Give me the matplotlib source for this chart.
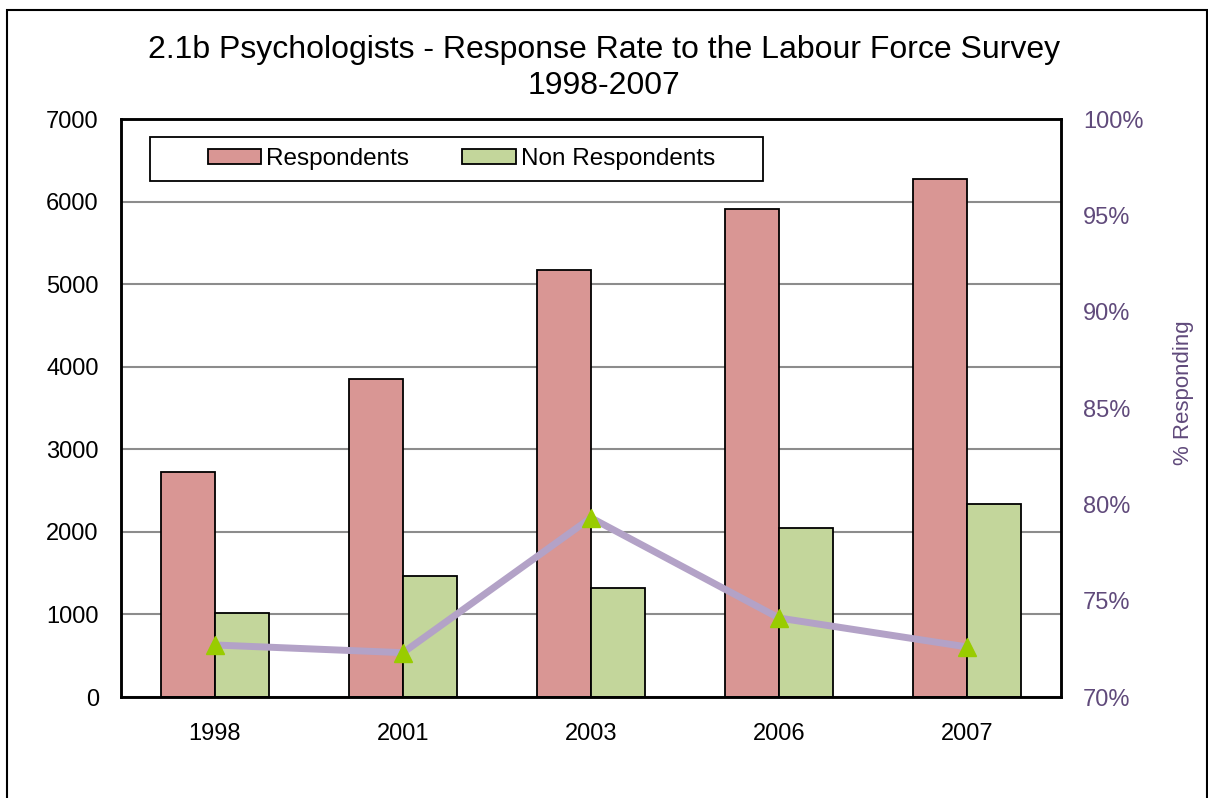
import numpy as np
import matplotlib.pyplot as plt
from matplotlib.patches import Rectangle
from matplotlib.ticker import PercentFormatter

plt.rcParams['font.family'] = ['Liberation Sans', 'DejaVu Sans']

# Datos
years = ['1998', '2001', '2003', '2006', '2007']
respondents = [2730, 3850, 5170, 5910, 6270]
non_respondents = [1020, 1470, 1320, 2050, 2340]
pct_responding = [72.7, 72.3, 79.3, 74.1, 72.6]

purple = '#604A7B'

fig = plt.figure(figsize=(12.08, 7.98), dpi=100)

# marco exterior del grafico
fig.patches.append(Rectangle((7 / 1208, -0.05), 1200 / 1208, 1.05 - 10 / 798,
                             transform=fig.transFigure, fill=False,
                             edgecolor='black', linewidth=1.5))

ax = fig.add_axes([121 / 1208, 1 - 697 / 798, 940 / 1208, 578 / 798])
x = np.arange(len(years))
w = 0.287
ax.bar(x - w / 2, respondents, w, color='#D99694', edgecolor='black',
       linewidth=1.3, label='Respondents', zorder=2)
ax.bar(x + w / 2, non_respondents, w, color='#C3D69B', edgecolor='black',
       linewidth=1.3, label='Non Respondents', zorder=2)

ax.set_xlim(-0.5, len(years) - 0.5)
ax.set_ylim(0, 7000)
ax.set_yticks(range(0, 7001, 1000))
ax.set_xticks(x)
ax.set_xticklabels(years)
ax.yaxis.grid(True, color='#8c8c8c', linewidth=1.5)
ax.set_axisbelow(True)
ax.tick_params(axis='y', length=0, pad=16, labelsize=17)
ax.tick_params(axis='x', length=0, pad=19, labelsize=17)
for s in ax.spines.values():
    s.set_linewidth(1.8)

ax2 = ax.twinx()
ax2.plot(x, pct_responding, color='#B3A2C7', linewidth=5,
         marker='^', markersize=13, markerfacecolor='#99CC00',
         markeredgecolor='#99CC00', zorder=3)
ax2.set_ylim(70, 100)
ax2.set_yticks(range(70, 101, 5))
ax2.yaxis.set_major_formatter(PercentFormatter(decimals=0))
ax2.tick_params(axis='y', length=0, pad=16, labelsize=17, labelcolor=purple)
ax2.set_ylabel('% Responding', color=purple, fontsize=16)
ax2.yaxis.set_label_coords(1.119, 0.526)
for s in ax2.spines.values():
    s.set_linewidth(1.8)

# leyenda con recuadro propio
box = Rectangle((29 / 940, (697 - 181) / 578), 613 / 940, 44 / 578,
                transform=ax.transAxes, facecolor='white', edgecolor='black',
                linewidth=1.3, zorder=5)
ax2.add_patch(box)
leg = ax2.legend(*ax.get_legend_handles_labels(), loc='center',
                 bbox_to_anchor=(0.362, (697 - 159) / 578),
                 ncol=2, frameon=False, fontsize=17.5, handlelength=2.2,
                 handleheight=0.62, handletextpad=0.2, columnspacing=2.2)
leg.set_zorder(6)

fig.text(0.5, 1 - 50 / 798, '2.1b Psychologists - Response Rate to the Labour Force Survey',
         ha='center', va='center', fontsize=23)
fig.text(0.5, 1 - 86 / 798, '1998-2007', ha='center', va='center', fontsize=23)

fig.savefig('out.png', dpi=100)
